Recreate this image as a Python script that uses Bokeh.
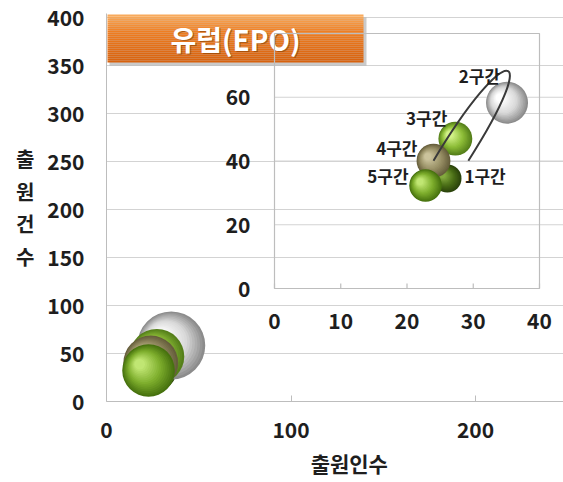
import math
from bokeh.plotting import figure
from bokeh.models import Range1d, FixedTicker, ColumnDataSource
from bokeh.core.properties import value
from bokeh.embed import file_html
from bokeh.resources import INLINE

# ---------------- data ----------------
segments = ["1구간", "2구간", "3구간", "4구간", "5구간"]
applicants = [26.1, 35.1, 27.3, 24.0, 22.8]      # 출원인수
filings = [34.5, 58.3, 47.0, 40.1, 32.3]         # 출원건수
bubble_value = [9, 20, 13, 13, 12]               # bubble size value
main_x_ticks = [0, 100, 200]
main_y_ticks = [0, 50, 100, 150, 200, 250, 300, 350, 400]
inset_x_ticks = [0, 10, 20, 30, 40]
inset_y_ticks = [0, 20, 40, 60]
inset_y_max = 80
chart_title = "유럽(EPO)"
x_title = "출원인수"
y_title = "출원건수"

# ---------------- styles / layout ----------------
FONT = "Noto Sans CJK KR"
TXT = "#1e1e1e"
GRID = "#d3d3d3"
AXIS = "#bdbdbd"
bubble_palettes = [
    ("#2a420b", "#4b6e17", "#83aa3e"),
    ("#8c8c8c", "#d8d8d8", "#ffffff"),
    ("#557f1a", "#8cbc37", "#d2f288"),
    ("#665e3c", "#9a9167", "#cbc39c"),
    ("#47720f", "#7dad2c", "#c0e673"),
]
label_align = ["left", "right", "right", "right", "right"]
label_dx_px = [17, -7, -8, -16, -17]
label_dy_px = [-3, -27, -21, -13, -10]

W, H = 563, 482
FL, FT, FB = 106, 13, 401
FW, FH = W - FL, FB - FT
MX, MY = 1.845, 0.96                    # main px per unit
IX0_PX, IX1_PX = 274, 539               # inset x: 0 and max
IY0_PX, IY1_PX = 288, 33                # inset y: 0 and max
IXS = (IX1_PX - IX0_PX) / inset_x_ticks[-1]
IYS = (IY0_PX - IY1_PX) / inset_y_max

p = figure(width=W, height=H,
           x_range=Range1d(0, FW / MX), y_range=Range1d(0, FH / MY),
           min_border_left=FL, min_border_right=0, min_border_top=FT,
           min_border_bottom=H - FB, output_backend="svg", toolbar_location=None)
ix_start = -(IX0_PX - FL) / IXS
iy_start = -(FB - IY0_PX) / IYS
p.extra_x_ranges = {"ix": Range1d(ix_start, ix_start + FW / IXS)}
p.extra_y_ranges = {"iy": Range1d(iy_start, iy_start + FH / IYS)}

p.outline_line_color = None
p.background_fill_color = "white"
p.border_fill_color = "white"
p.xgrid.visible = False
p.ygrid.grid_line_color = GRID
p.ygrid.ticker = FixedTicker(ticks=main_y_ticks)
p.xaxis.ticker = FixedTicker(ticks=main_x_ticks)
p.yaxis.ticker = FixedTicker(ticks=main_y_ticks)
for ax in (p.xaxis, p.yaxis):
    ax.axis_line_color = AXIS
    ax.major_tick_line_color = AXIS
    ax.minor_tick_line_color = None
    ax.major_label_text_font = FONT
    ax.major_label_text_font_style = "bold"
    ax.major_label_text_font_size = "21px"
    ax.major_label_text_color = TXT
    ax.axis_label_text_font = FONT
    ax.axis_label_text_font_style = "bold"
    ax.axis_label_text_color = TXT
p.xaxis.major_tick_in = 6
p.xaxis.major_tick_out = 0
p.yaxis.major_tick_in = 0
p.yaxis.major_tick_out = 0
p.xaxis.major_label_standoff = 20
p.yaxis.major_label_standoff = 22

# axis titles (x title shifted right with no-break spaces like the reference)
p.xaxis.axis_label = "\u00a0" * 6 + x_title
p.xaxis.axis_label_text_font_size = "21px"
p.xaxis.axis_label_standoff = 7
p.yaxis.axis_label = "\n".join(y_title)
p.yaxis.axis_label_orientation = "horizontal"
p.yaxis.axis_label_text_font_size = "20px"
p.yaxis.axis_label_text_line_height = 1.12
p.yaxis.axis_label_standoff = 10


def hex2rgb(h):
    h = h.lstrip("#")
    return tuple(int(h[i:i + 2], 16) for i in (0, 2, 4))


def mix(a, b, t):
    ra, rb = hex2rgb(a), hex2rgb(b)
    return "#%02x%02x%02x" % tuple(int(round(ra[k] + (rb[k] - ra[k]) * t)) for k in range(3))


def sphere_source(xs, ys, radii, sx, sy, n=16):
    d = dict(x=[], y=[], size=[], color=[])
    for i in range(len(xs)):
        edge, mid, hi = bubble_palettes[i]
        for j in range(n):
            t = j / (n - 1)
            f = 1 - 0.8 * t
            c = mix(edge, mid, t / 0.45) if t < 0.45 else mix(mid, hi, (t - 0.45) / 0.55)
            off = radii[i] * (1 - f)
            d["x"].append(xs[i] - off * 0.42 / sx)
            d["y"].append(ys[i] + off * 0.30 / sy)
            d["size"].append(2 * radii[i] * f)
            d["color"].append(c)
    return ColumnDataSource(d)


# ---------------- banner ----------------
b_left, b_right = (107 - FL) / MX, (363 - FL) / MX
b_top, b_bot = (FB - 14) / MY, (FB - 62) / MY
p.quad(left=[b_left + 2 / MX], right=[b_right + 3 / MX], top=[b_top - 3 / MY], bottom=[b_bot - 3 / MY],
       fill_color="#8a8a8a", fill_alpha=0.45, line_color=None)
nstrip = 24
for k in range(nstrip):
    t = k / (nstrip - 1)
    col = mix("#f8aa5c", "#ef7e22", t / 0.35) if t < 0.35 else mix("#ef7e22", "#d7620e", (t - 0.35) / 0.65)
    top = b_top - (b_top - b_bot) * k / nstrip
    bot = b_top - (b_top - b_bot) * (k + 1) / nstrip
    p.quad(left=[b_left], right=[b_right], top=[top], bottom=[bot], fill_color=col, line_color=None)
p.text(x=[(235 - FL) / MX + 1.2 / MX], y=[(FB - 38) / MY - 1.5 / MY], text=[chart_title],
       text_font=value(FONT), text_font_style="bold", text_font_size="28px",
       text_color="#7a3a00", text_alpha=0.55, text_align="center", text_baseline="middle")
p.text(x=[(235 - FL) / MX], y=[(FB - 38) / MY], text=[chart_title],
       text_font=value(FONT), text_font_style="bold", text_font_size="28px",
       text_color="white", text_align="center", text_baseline="middle")

# ---------------- main bubbles ----------------
k_main = 34 / math.sqrt(max(bubble_value))
main_r = [k_main * math.sqrt(v) for v in bubble_value]
p.scatter(x="x", y="y", size="size", fill_color="color", line_color=None,
          source=sphere_source(applicants, filings, main_r, MX, MY))

# ---------------- inset ----------------
ir = dict(x_range_name="ix", y_range_name="iy")
ix_end = ix_start + FW / IXS
p.segment(x0=[0] * 3, x1=[ix_end] * 3, y0=inset_y_ticks[1:], y1=inset_y_ticks[1:],
          line_color=GRID, line_width=1, **ir)
p.quad(left=[0], right=[inset_x_ticks[-1]], bottom=[0], top=[inset_y_max],
       fill_color=None, line_color=AXIS, line_width=1.2, **ir)
p.segment(x0=inset_x_ticks, x1=inset_x_ticks, y0=[0] * 5, y1=[5 / IYS] * 5,
          line_color=AXIS, line_width=1.2, **ir)
p.text(x=[-24 / IXS] * len(inset_y_ticks), y=inset_y_ticks, text=[str(t) for t in inset_y_ticks],
       text_font=value(FONT), text_font_style="bold", text_font_size="21px", text_color=TXT,
       text_align="right", text_baseline="middle", **ir)
p.text(x=inset_x_ticks, y=[-32 / IYS] * len(inset_x_ticks), text=[str(t) for t in inset_x_ticks],
       text_font=value(FONT), text_font_style="bold", text_font_size="21px", text_color=TXT,
       text_align="center", text_baseline="middle", **ir)

k_in = 21 / math.sqrt(max(bubble_value))
in_r = [k_in * math.sqrt(v) for v in bubble_value]
p.scatter(x="x", y="y", size="size", fill_color="color", line_color=None,
          source=sphere_source(applicants, filings, in_r, IXS, IYS), **ir)

# loop annotation (from 4구간 up over 2구간 and back down past 3구간)
p.bezier(x0=[applicants[3]], y0=[filings[3]],
         x1=[applicants[2] + 13 / IXS], y1=[filings[2] - 22 / IYS],
         cx0=[applicants[1] - 2 / IXS], cy0=[filings[1] + 62 / IYS],
         cx1=[applicants[1] + 38 / IXS], cy1=[filings[1] + 62 / IYS],
         line_color="#3a3a3a", line_width=2, **ir)

lab = ColumnDataSource(dict(
    x=[applicants[i] + label_dx_px[i] / IXS for i in range(5)],
    y=[filings[i] - label_dy_px[i] / IYS for i in range(5)],
    text=segments, align=label_align))
p.text(x="x", y="y", text="text", text_align="align", text_baseline="middle",
       text_font=value(FONT), text_font_style="bold", text_font_size="17px",
       text_color=TXT, source=lab, **ir)

open("out.html", "w").write(file_html(p, INLINE))
